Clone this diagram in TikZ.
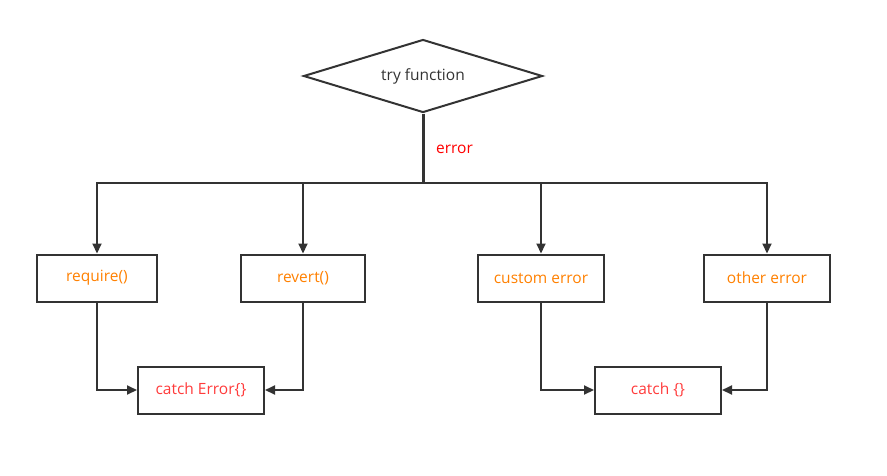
\documentclass[tikz,border=0pt]{standalone}
\usepackage{fontspec}
\setmainfont{Open Sans}
\usepackage{tikz}
\usetikzlibrary{arrows.meta,shapes.geometric,calc}
\definecolor{lineGray}{HTML}{333333}
\definecolor{txtOrange}{HTML}{FF8000}
\definecolor{txtRed}{HTML}{FF3B3B}
\definecolor{errRed}{HTML}{FF0000}
\tikzset{
  flowline/.style={draw=lineGray,line width=2pt},
  flowarrow/.style={flowline,-{Triangle[length=10pt,width=9pt]}},
  kindbox/.style={draw=lineGray,line width=2pt,rectangle,minimum height=47pt,text=txtOrange,font=\fontsize{15.5}{18}\selectfont},
  catchbox/.style={draw=lineGray,line width=2pt,rectangle,minimum height=47pt,minimum width=126pt,text=txtRed,font=\fontsize{15.5}{18}\selectfont}
}

\begin{document}
\begin{tikzpicture}[x=1pt,y=-1pt,line cap=butt,line join=miter]
\useasboundingbox (0,0) rectangle (887,475);
% start
\node [diamond,aspect=3.27,draw=lineGray,line width=2pt,minimum width=239pt,minimum height=73pt,inner sep=0pt,text=lineGray,font=\fontsize{15.5}{18}\selectfont] (try) at (423,76) {try function};
\coordinate (split) at (423,183);
\draw [draw=lineGray,line width=3pt] (try.south) -- (split);
\node [anchor=west,text=errRed,font=\fontsize{15.5}{18}\selectfont,inner sep=0pt] (errlbl) at (436,149) {error};
% error kinds
\node [kindbox,minimum width=120pt] (req) at (97,278) {require()};
\node [kindbox,minimum width=124pt] (rev) at (303,278) {revert()};
\node [kindbox,minimum width=126pt] (cust) at (541,278) {custom error};
\node [kindbox,minimum width=126pt] (other) at (767,278) {other error};
% catch blocks
\node [catchbox] (catchErr) at (201,390) {catch Error\{\}};
\node [catchbox] (catchAny) at (658,390) {catch \{\}};
% branches
\draw [flowarrow] (split) -| (req.north);
\draw [flowarrow] (split) -| (rev.north);
\draw [flowarrow] (split) -| (cust.north);
\draw [flowarrow] (split) -| (other.north);
\draw [flowarrow] (req.south) |- (catchErr.west);
\draw [flowarrow] (rev.south) |- (catchErr.east);
\draw [flowarrow] (cust.south) |- (catchAny.west);
\draw [flowarrow] (other.south) |- (catchAny.east);
\end{tikzpicture}
\end{document}
